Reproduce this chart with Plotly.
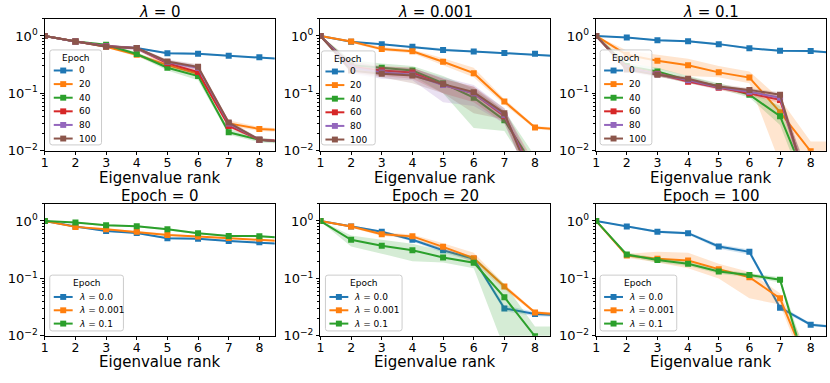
import plotly.graph_objects as go

W, H = 830, 383

# -------------------------------
# Data
# -------------------------------
ranks = [1, 2, 3, 4, 5, 6, 7, 8, 9]
epochs = [0, 20, 40, 60, 80, 100]
lambda_titles = ["0", "0.001", "0.1"]
lambda_names = ["0.0", "0.001", "0.1"]
bottom_epochs = [0, 20, 100]

# rows = epochs 0, 20, 40, 60, 80, 100
lam0_mean = [
    [1.0, 0.80, 0.67, 0.615, 0.50, 0.49, 0.45, 0.425, 0.39],
    [1.0, 0.80, 0.65, 0.47, 0.31, 0.22, 0.030, 0.024, 0.0225],
    [1.0, 0.80, 0.70, 0.485, 0.28, 0.20, 0.021, 0.0155, 0.014],
    [1.0, 0.80, 0.67, 0.61, 0.335, 0.235, 0.027, 0.0156, 0.0145],
    [1.0, 0.80, 0.66, 0.61, 0.35, 0.28, 0.030, 0.0156, 0.014],
    [1.0, 0.80, 0.65, 0.614, 0.36, 0.29, 0.031, 0.0156, 0.014],
]
lam0_lo = [
    [0.98, 0.78, 0.65, 0.60, 0.48, 0.47, 0.44, 0.41, 0.38],
    [0.98, 0.77, 0.62, 0.44, 0.28, 0.20, 0.027, 0.022, 0.021],
    [0.98, 0.77, 0.66, 0.45, 0.25, 0.17, 0.019, 0.014, 0.013],
    [0.98, 0.77, 0.64, 0.57, 0.30, 0.21, 0.025, 0.0148, 0.0138],
    [0.98, 0.77, 0.63, 0.57, 0.32, 0.25, 0.027, 0.0148, 0.0133],
    [0.98, 0.77, 0.62, 0.58, 0.33, 0.26, 0.028, 0.0148, 0.0133],
]
lam0_hi = [
    [1.02, 0.82, 0.69, 0.63, 0.52, 0.51, 0.46, 0.44, 0.40],
    [1.02, 0.83, 0.68, 0.50, 0.34, 0.24, 0.034, 0.026, 0.024],
    [1.02, 0.83, 0.74, 0.52, 0.31, 0.23, 0.024, 0.017, 0.015],
    [1.02, 0.83, 0.70, 0.65, 0.37, 0.26, 0.030, 0.0165, 0.0152],
    [1.02, 0.83, 0.69, 0.65, 0.38, 0.31, 0.033, 0.0165, 0.0148],
    [1.02, 0.83, 0.68, 0.65, 0.39, 0.32, 0.034, 0.0165, 0.0148],
]

lam1_mean = [
    [1.0, 0.79, 0.72, 0.65, 0.57, 0.535, 0.505, 0.49, 0.44],
    [1.0, 0.80, 0.59, 0.54, 0.355, 0.225, 0.072, 0.0255, 0.023],
    [1.0, 0.31, 0.28, 0.25, 0.15, 0.084, 0.034, 0.005, 0.001],
    [1.0, 0.29, 0.25, 0.23, 0.14, 0.10, 0.040, 0.0035, 0.0008],
    [1.0, 0.28, 0.23, 0.21, 0.14, 0.10, 0.042, 0.003, 0.0007],
    [1.0, 0.25, 0.22, 0.205, 0.145, 0.105, 0.045, 0.0023, 0.0006],
]
lam1_lo = [
    [0.98, 0.77, 0.70, 0.63, 0.55, 0.52, 0.49, 0.47, 0.43],
    [0.98, 0.76, 0.55, 0.50, 0.31, 0.19, 0.064, 0.024, 0.0215],
    [0.98, 0.25, 0.22, 0.20, 0.10, 0.025, 0.022, 0.003, 0.0005],
    [0.98, 0.23, 0.20, 0.18, 0.10, 0.07, 0.03, 0.002, 0.0004],
    [0.98, 0.22, 0.18, 0.17, 0.07, 0.06, 0.03, 0.0018, 0.0004],
    [0.98, 0.23, 0.19, 0.15, 0.10, 0.045, 0.035, 0.0015, 0.0003],
]
lam1_hi = [
    [1.02, 0.81, 0.74, 0.67, 0.59, 0.55, 0.52, 0.50, 0.46],
    [1.02, 0.84, 0.64, 0.58, 0.41, 0.28, 0.080, 0.027, 0.0245],
    [1.02, 0.38, 0.33, 0.30, 0.20, 0.12, 0.05, 0.008, 0.002],
    [1.02, 0.36, 0.30, 0.28, 0.18, 0.13, 0.05, 0.006, 0.0015],
    [1.02, 0.35, 0.29, 0.27, 0.19, 0.14, 0.055, 0.005, 0.0012],
    [1.02, 0.27, 0.29, 0.28, 0.18, 0.13, 0.055, 0.004, 0.001],
]

lam2_mean = [
    [1.0, 0.94, 0.84, 0.81, 0.72, 0.61, 0.55, 0.545, 0.50],
    [1.0, 0.47, 0.37, 0.31, 0.232, 0.188, 0.047, 0.0098, 0.003],
    [1.0, 0.30, 0.24, 0.17, 0.135, 0.095, 0.040, 0.002, 0.0005],
    [1.0, 0.28, 0.22, 0.16, 0.125, 0.10, 0.077, 0.0019, 0.0004],
    [1.0, 0.27, 0.215, 0.17, 0.128, 0.107, 0.084, 0.0017, 0.0004],
    [1.0, 0.26, 0.21, 0.18, 0.132, 0.115, 0.095, 0.0015, 0.0003],
]
lam2_lo = [
    [0.98, 0.91, 0.81, 0.78, 0.69, 0.59, 0.53, 0.52, 0.48],
    [0.98, 0.36, 0.27, 0.20, 0.19, 0.15, 0.006, 0.005, 0.002],
    [0.98, 0.26, 0.20, 0.15, 0.12, 0.085, 0.028, 0.0012, 0.0003],
    [0.98, 0.25, 0.20, 0.15, 0.115, 0.092, 0.068, 0.0012, 0.0002],
    [0.98, 0.24, 0.20, 0.155, 0.118, 0.098, 0.075, 0.001, 0.0002],
    [0.98, 0.24, 0.19, 0.165, 0.12, 0.105, 0.085, 0.001, 0.0002],
]
lam2_hi = [
    [1.02, 0.97, 0.87, 0.84, 0.75, 0.63, 0.57, 0.57, 0.52],
    [1.02, 0.56, 0.47, 0.40, 0.30, 0.24, 0.08, 0.0145, 0.0145],
    [1.02, 0.34, 0.28, 0.20, 0.15, 0.11, 0.06, 0.004, 0.001],
    [1.02, 0.31, 0.24, 0.175, 0.135, 0.11, 0.088, 0.003, 0.0008],
    [1.02, 0.30, 0.23, 0.185, 0.138, 0.117, 0.095, 0.003, 0.0008],
    [1.02, 0.28, 0.23, 0.195, 0.145, 0.125, 0.105, 0.0025, 0.0006],
]

means = [lam0_mean, lam1_mean, lam2_mean]
lows = [lam0_lo, lam1_lo, lam2_lo]
highs = [lam0_hi, lam1_hi, lam2_hi]

colors = ["#1f77b4", "#ff7f0e", "#2ca02c", "#d62728", "#9467bd", "#8c564b"]
FONT = "DejaVu Sans"

# -------------------------------
# Layout geometry (pixels)
# -------------------------------
xdom_px = [(41, 272), (318, 549), (595, 826)]
ydom_px = [(19, 154), (208, 343)]
legend_px = [(46, 51, 98, 148), (319, 52, 373, 148), (599, 51, 651, 148),
             (46, 281, 120, 338), (323, 281, 400, 338), (599, 281, 676, 338)]


def px(x):
    return x / W


def py(y):
    return 1 - y / H


def rgba(hexcol, a):
    h = hexcol.lstrip("#")
    return "rgba(%d,%d,%d,%s)" % (int(h[0:2], 16), int(h[2:4], 16), int(h[4:6], 16), a)


fig = go.Figure()


def add_series(k, mean, lo, hi, color):
    xa = "x" if k == 0 else "x%d" % (k + 1)
    ya = "y" if k == 0 else "y%d" % (k + 1)
    fig.add_trace(go.Scatter(x=ranks, y=lo, xaxis=xa, yaxis=ya, mode="lines",
                             line=dict(width=0, color=color), showlegend=False,
                             hoverinfo="skip"))
    fig.add_trace(go.Scatter(x=ranks, y=hi, xaxis=xa, yaxis=ya, mode="lines",
                             line=dict(width=0, color=color), fill="tonexty",
                             fillcolor=rgba(color, 0.2), showlegend=False,
                             hoverinfo="skip"))
    fig.add_trace(go.Scatter(x=ranks, y=mean, xaxis=xa, yaxis=ya,
                             mode="lines+markers",
                             line=dict(width=2, color=color),
                             marker=dict(symbol="square", size=6, color=color),
                             showlegend=False))


# top row: one panel per lambda, lines per epoch
for j in range(3):
    for e in range(len(epochs)):
        add_series(j, means[j][e], lows[j][e], highs[j][e], colors[e])

# bottom row: one panel per epoch, lines per lambda
for j, ep in enumerate(bottom_epochs):
    e = epochs.index(ep)
    for li in range(3):
        add_series(3 + j, means[li][e], lows[li][e], highs[li][e], colors[li])

minor_vals = [m * 10 ** d for d in (-2, -1, 0) for m in range(2, 10)]

layout = {}
for k in range(6):
    r, c = divmod(k, 3)
    x0, x1 = xdom_px[c]
    y0, y1 = ydom_px[r]
    xn = "xaxis" if k == 0 else "xaxis%d" % (k + 1)
    yn = "yaxis" if k == 0 else "yaxis%d" % (k + 1)
    xa = "x" if k == 0 else "x%d" % (k + 1)
    ya = "y" if k == 0 else "y%d" % (k + 1)
    layout[xn] = dict(domain=[px(x0), px(x1)], anchor=ya, range=[1, 8.5],
                      tickvals=list(range(1, 9)), showline=True, mirror=True,
                      linecolor="black", linewidth=1, ticks="outside", ticklen=3.5,
                      tickcolor="black", tickfont=dict(size=12.5, color="black"),
                      ticklabelstandoff=-3,
                      showgrid=False, zeroline=False)
    layout[yn] = dict(domain=[py(y1), py(y0)], anchor=xa, type="log",
                      range=[-2, 0.302], tickvals=[0.01, 0.1, 1],
                      ticktext=["10<sup>−2</sup>", "10<sup>−1</sup>", "10<sup>0</sup>"],
                      showline=True, mirror=True, linecolor="black", linewidth=1,
                      ticks="outside", ticklen=3.5, tickcolor="black",
                      tickfont=dict(size=13, color="black"),
                      minor=dict(tickvals=minor_vals, ticks="outside", ticklen=2,
                                 tickcolor="black"),
                      showgrid=False, zeroline=False)

annotations = []
shapes = []

# titles and x labels
titles = ["<i>λ</i> = " + t for t in lambda_titles] + ["Epoch = %d" % e for e in bottom_epochs]
for k in range(6):
    r, c = divmod(k, 3)
    xc = (xdom_px[c][0] + xdom_px[c][1]) / 2
    ty = 12 if r == 0 else 200
    ly = 182 if r == 0 else 370
    annotations.append(dict(text=titles[k], x=px(xc), y=py(ty), xref="paper", yref="paper",
                            showarrow=False, xanchor="center", yanchor="middle",
                            font=dict(size=15, color="black", family=FONT)))
    annotations.append(dict(text="Eigenvalue rank", x=px(xc), y=py(ly), xref="paper",
                            yref="paper", showarrow=False, xanchor="center",
                            yanchor="middle", font=dict(size=15, color="black", family=FONT)))


def rounded_rect(x0, y0, x1, y1, r=2.5):
    pts = [
        ("M", x0 + r, y0), ("L", x1 - r, y0), ("Q", x1, y0, x1, y0 + r),
        ("L", x1, y1 - r), ("Q", x1, y1, x1 - r, y1), ("L", x0 + r, y1),
        ("Q", x0, y1, x0, y1 - r), ("L", x0, y0 + r), ("Q", x0, y0, x0 + r, y0),
    ]
    out = []
    for p in pts:
        cmd = p[0]
        coords = p[1:]
        s = []
        for i in range(0, len(coords), 2):
            s.append("%.5f,%.5f" % (px(coords[i]), py(coords[i + 1])))
        out.append(cmd + " " + " ".join(s))
    return " ".join(out) + " Z"


# legends
for k in range(6):
    bx0, by0, bx1, by1 = legend_px[k]
    if k < 3:
        labels = [str(e) for e in epochs]
        cols = colors[:6]
        first, step = 21, 13.9
    else:
        labels = ["<i>λ</i> = " + n for n in lambda_names]
        cols = colors[:3]
        first, step = 22.3, 13.6
    shapes.append(dict(type="path", path=rounded_rect(bx0, by0, bx1, by1),
                       xref="paper", yref="paper", fillcolor="rgba(255,255,255,0.8)",
                       line=dict(color="#cccccc", width=1), layer="above"))
    annotations.append(dict(text="Epoch", x=px((bx0 + bx1) / 2), y=py(by0 + 8),
                            xref="paper", yref="paper", showarrow=False,
                            xanchor="center", yanchor="middle",
                            font=dict(size=9, color="black", family=FONT)))
    for i, (lab, col) in enumerate(zip(labels, cols)):
        yy = by0 + first + step * i
        shapes.append(dict(type="line", x0=px(bx0 + 4), x1=px(bx0 + 23), y0=py(yy), y1=py(yy),
                           xref="paper", yref="paper", line=dict(color=col, width=2),
                           layer="above"))
        shapes.append(dict(type="rect", x0=px(bx0 + 10.5), x1=px(bx0 + 16.5),
                           y0=py(yy - 3), y1=py(yy + 3), xref="paper", yref="paper",
                           fillcolor=col, line=dict(width=0), layer="above"))
        annotations.append(dict(text=lab, x=px(bx0 + 27), y=py(yy), xref="paper",
                                yref="paper", showarrow=False, xanchor="left",
                                yanchor="middle",
                                font=dict(size=9, color="black", family=FONT)))

fig.update_layout(**layout)
fig.update_layout(
    width=W, height=H,
    margin=dict(l=0, r=0, t=0, b=0),
    plot_bgcolor="white", paper_bgcolor="white",
    font=dict(family=FONT, color="black"),
    showlegend=False,
    annotations=annotations,
    shapes=shapes,
)

# page body has a default 8px margin; remove it so the figure sits at (0, 0)
fig.write_html("out.html",
               config={"displayModeBar": False},
               post_script="document.body.style.margin='0';"
                           "document.body.style.overflow='hidden';")
